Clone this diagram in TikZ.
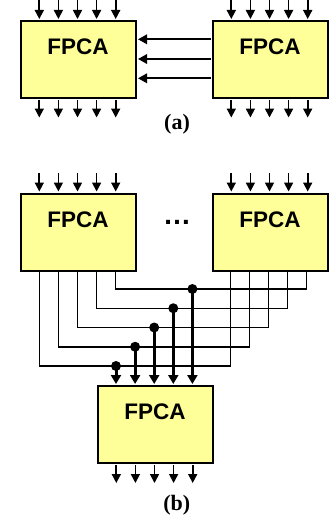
\documentclass[tikz,border=0pt]{standalone}
\usepackage{fontspec}
\setmainfont{Liberation Serif}
\setsansfont{Liberation Sans}
\usetikzlibrary{arrows.meta,calc}
\definecolor{boxyellow}{HTML}{FFFF99}
\begin{document}
\begin{tikzpicture}[x=1pt,y=-1pt,
  box/.style={draw=black, line width=2pt, fill=boxyellow, minimum width=115pt, minimum height=77pt, inner sep=0pt, anchor=north west},
  lbl/.style={font=\sffamily\bfseries\fontsize{22.5}{23}\selectfont, inner sep=0pt},
  captxt/.style={font=\bfseries\fontsize{22}{22}\selectfont, inner sep=0pt},
  pin/.style={line width=1.7pt, -{Triangle[width=9pt,length=9pt]}},
  link/.style={line width=1.8pt, -{Triangle[width=9.5pt,length=9pt]}},
  wire/.style={line width=1.5pt},
  bus/.style={line width=3pt, -{Triangle[width=10pt,length=9pt]}},
  junction/.style={circle, fill=black, inner sep=0pt, minimum size=10pt}]
\useasboundingbox (0,0) rectangle (334,527);

% ---------------- (a) ----------------
\node[box] (A1) at (20,20) {};
\node[box] (A2) at (212,20) {};
\node[lbl] (A1t) at (78,46.7) {FPCA};
\node[lbl] (A2t) at (270,46.7) {FPCA};
\foreach \b in {A1,A2}{
  \foreach \i in {0,...,4}{
    \coordinate (\b in\i) at ($(\b.north west)+(19.3+19.1*\i,-20)$);
    \coordinate (\b out\i) at ($(\b.south west)+(19.3+19.1*\i,18.5)$);
    \draw[pin] (\b in\i) -- ($(\b in\i |- \b.north)+(0,-1)$);
    \draw[pin] ($(\b out\i |- \b.south)+(0,1)$) -- (\b out\i);
  }
}
\foreach \d in {19.3,39,58.3}{
  \draw[link] ($(A2.north west)+(-1,\d)$) -- ($(A1.north east)+(1,\d)$);
}
\node[captxt] (capa) at (177,124) {(a)};

% ---------------- (b) ----------------
\node[box] (B1) at (20,192.5) {};
\node[box] (B2) at (212,192.5) {};
\node[box] (B3) at (96.7,385) {};
\node[lbl] (B1t) at (78,219.3) {FPCA};
\node[lbl] (B2t) at (270,219.3) {FPCA};
\node[lbl] (B3t) at (155,411.7) {FPCA};
\node[font=\sffamily\bfseries\fontsize{28}{28}\selectfont, inner sep=0pt] (dots) at (177,222) {…};
\foreach \b in {B1,B2}{
  \foreach \i in {0,...,4}{
    \coordinate (\b in\i) at ($(\b.north west)+(19.3+19.1*\i,-19.5)$);
    \draw[pin] (\b in\i) -- ($(\b in\i |- \b.north)+(0,-1)$);
  }
}
\foreach \i in {0,...,4}{
  \coordinate (B3out\i) at ($(B3.south west)+(19.6+19.1*\i,19)$);
  \draw[pin] ($(B3out\i |- B3.south)+(0,1)$) -- (B3out\i);
  \coordinate (L\i) at ($(B1.south west)+(19.3+19.1*\i,0)$);
  \coordinate (R\i) at ($(B2.south west)+(18.3+19.1*\i,0)$);
  \coordinate (lev\i) at (0,366-19.25*\i);
  \draw[wire] (L\i) -- (L\i |- lev\i) -- (R\i |- lev\i) -- (R\i);
  \coordinate (T\i) at ($(B3.north west)+(19.3+19.1*\i,-1)$);
  \node[junction] (J\i) at (T\i |- lev\i) {};
  \draw[bus] (J\i.center) -- (T\i);
}
\node[captxt] (capb) at (176.7,505.5) {(b)};
\end{tikzpicture}
\end{document}
